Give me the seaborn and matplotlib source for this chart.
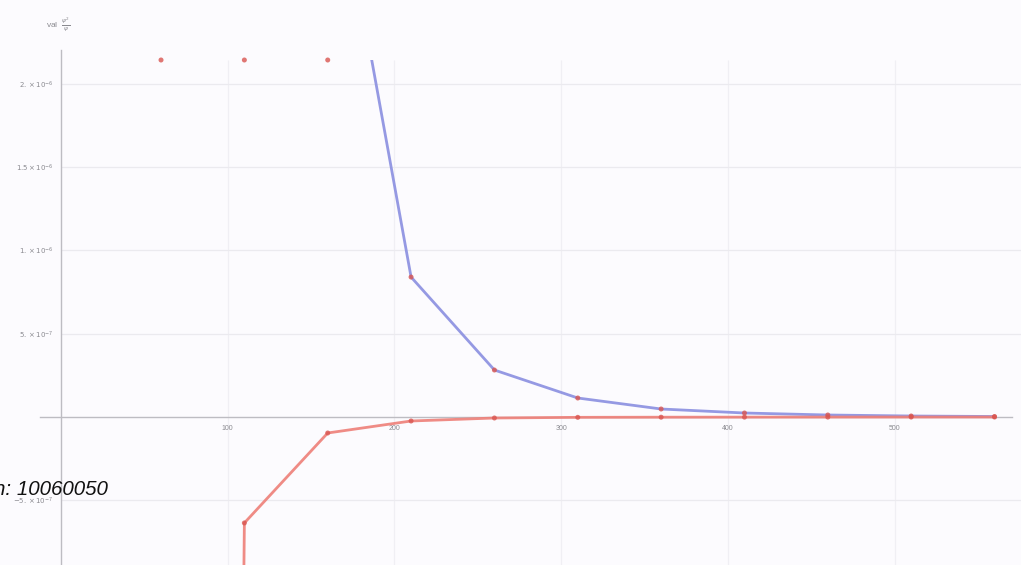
import numpy as np
import pandas as pd
import matplotlib
matplotlib.use("Agg")
import matplotlib.pyplot as plt
import seaborn as sns
from matplotlib.ticker import MultipleLocator, FixedLocator
from matplotlib.patches import Rectangle

sns.set_style("white")
plt.rcParams['font.family'] = ['Liberation Sans', 'DejaVu Sans']

# ---- data ----
n_values = [60, 110, 160, 210, 260, 310, 360, 410, 460, 510, 560]
upper_series = [2.0e-5, 8.0e-6, 3.6e-6, 8.4e-7, 2.82e-7, 1.14e-7, 4.8e-8, 2.4e-8, 1.2e-8, 6e-9, 3e-9]
lower_series = [-5.0e-5, -6.36e-7, -9.6e-8, -2.4e-8, -6e-9, -2e-9, -1.2e-9, -8e-10, -5e-10, -3e-10, -2e-10]
x_ticks = [100, 200, 300, 400, 500]
x_tick_labels = ["100", "200", "300", "400", "500"]
y_ticks = [-5e-7, 5e-7, 1e-6, 1.5e-6, 2e-6]
y_tick_labels = [r"$-5.\times10^{-7}$", r"$5.\times10^{-7}$", r"$1.\times10^{-6}$",
                 r"$1.5\times10^{-6}$", r"$2.\times10^{-6}$"]
overlay_text = "n: 10060050"

W, H = 1021, 565
bg = "#fcfbfe"
fig = plt.figure(figsize=(W / 100, H / 100), dpi=100)
fig.patch.set_facecolor(bg)

top_px = 48
ax = fig.add_axes([0, 0, 1, (H - top_px) / H])
ax.set_facecolor(bg)

px_per_x = 1.667
x0_px = 61
xmin, xmax = -x0_px / px_per_x, (W - x0_px) / px_per_x
ax.set_xlim(xmin, xmax)
y0_px = 417
px_per_y = 83.3 / 5e-7
ymin, ymax = -(H - y0_px) / px_per_y, (y0_px - top_px) / px_per_y
ax.set_ylim(ymin, ymax)
yclip = (y0_px - 60) / px_per_y   # plot range top

df = pd.DataFrame({"n": n_values, "upper": upper_series, "lower": lower_series})

# faint grid
for xt in x_ticks:
    ax.vlines(xt, ymin, yclip, color="#f0eff4", lw=0.9, zorder=0)
for yt in y_ticks:
    ax.hlines(yt, 0, xmax, color="#ebeaef", lw=0.9, zorder=0)

sns.lineplot(data=df, x="n", y="upper", ax=ax, color="#8a8fe0", lw=2.0, alpha=0.9, zorder=3)
sns.lineplot(data=df, x="n", y="lower", ax=ax, color="#ee7f78", lw=2.0, alpha=0.9, zorder=3)
clip_rect = Rectangle((xmin, ymin), xmax - xmin, yclip - ymin, transform=ax.transData)
for ln in ax.lines:
    ln.set_clip_path(clip_rect)

mk = pd.DataFrame({"n": n_values * 2,
                   "v": list(np.minimum(upper_series, yclip)) + list(lower_series)})
sns.scatterplot(data=mk, x="n", y="v", ax=ax, color="#d95550", s=13,
                edgecolor="none", zorder=4, alpha=0.8)

# Mathematica-like axes through origin
for s in ["top", "right"]:
    ax.spines[s].set_visible(False)
ax.spines["left"].set_position(("data", 0))
ax.spines["bottom"].set_position(("data", 0))
ax.spines["bottom"].set_bounds((40 - x0_px) / px_per_x, (1012 - x0_px) / px_per_x)
ax.spines["left"].set_bounds(ymin, (y0_px - 50) / px_per_y)
for s in ["left", "bottom"]:
    ax.spines[s].set_color("#bdbcc2")
    ax.spines[s].set_linewidth(1.0)

ax.xaxis.set_major_locator(FixedLocator(x_ticks))
ax.set_xticklabels(x_tick_labels)
ax.xaxis.set_minor_locator(MultipleLocator(20))
ax.yaxis.set_major_locator(FixedLocator(y_ticks))
ax.set_yticklabels(y_tick_labels)
ax.yaxis.set_minor_locator(MultipleLocator(1e-7))
ax.tick_params(axis="both", which="major", direction="inout", length=5, width=0.8,
               color="#b4b3b8", labelsize=5, labelcolor="#8a8a90", pad=3)
ax.tick_params(axis="both", which="minor", direction="inout", length=3, width=0.6,
               color="#c4c3c8")
ax.set_xlabel("")
ax.set_ylabel("")

fig.text(58 / W, 1 - 24 / H, r"val  $\frac{\psi^2}{\psi}$", fontsize=6, color="#8a8a90",
         ha="center", va="center")

fig.text(108 / W, 1 - 495 / H, overlay_text, fontsize=14.8, style="italic",
         color="#111111", ha="right", va="baseline")

fig.savefig("out.png", dpi=100, facecolor=fig.get_facecolor())
